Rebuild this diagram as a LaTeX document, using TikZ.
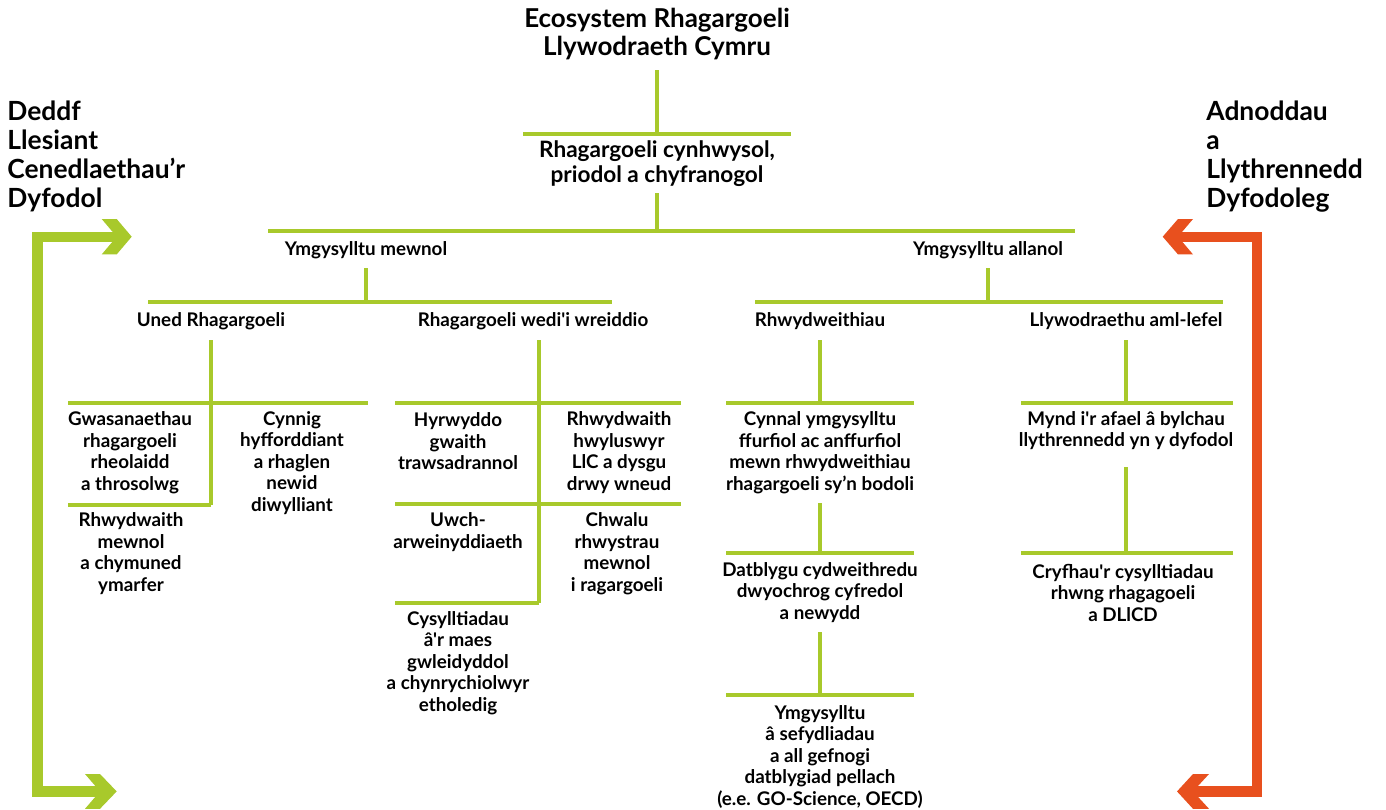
\documentclass[tikz,border=0pt]{standalone}
\usepackage{fontspec}
\setmainfont{Lato}[Ligatures=TeXOff]
\definecolor{lime}{HTML}{A8C92B}
\definecolor{orng}{HTML}{E8501E}
\tikzset{
  ln/.style={draw=lime, line width=1.6pt},
  sm/.style={font=\fontsize{9.4}{10.75}\selectfont\bfseries, align=center, inner sep=0pt},
  md/.style={font=\fontsize{11.3}{12.5}\selectfont\bfseries, align=center, inner sep=0pt},
  ttl/.style={font=\fontsize{13}{13.7}\selectfont\bfseries, align=center, inner sep=0pt},
  side/.style={font=\fontsize{13.2}{14.5}\selectfont\bfseries, align=left, inner sep=0pt, anchor=north west},
}
\begin{document}
\begin{tikzpicture}[x=0.5pt,y=-0.5pt]
\useasboundingbox (0,0) rectangle (1386,809);

% ---------- side brackets ----------
\fill[lime] (32.3,231.7) rectangle (42.7,796.7);
\fill[lime] (32.3,231.7) rectangle (120,241.7);
\fill[lime] (101.7,219)--(116.7,219)--(131.7,236.7)--(116.7,254.4)--(101.7,254.4)--(116.7,236.7)--cycle;
\fill[lime] (32.3,786) rectangle (104,796.7);
\fill[lime] (85,774)--(100,774)--(116.7,791.4)--(100,808.8)--(85,808.8)--(100,791.4)--cycle;

\fill[orng] (1251.7,231.7) rectangle (1262.3,796.7);
\fill[orng] (1175,231.7) rectangle (1262.3,241.7);
\fill[orng] (1193,219)--(1178,219)--(1162.7,236.7)--(1178,254.4)--(1193,254.4)--(1178,236.7)--cycle;
\fill[orng] (1190,786) rectangle (1262.3,796.7);
\fill[orng] (1209,774)--(1193,774)--(1177,791.4)--(1193,808.8)--(1209,808.8)--(1193,791.4)--cycle;

\node[side] (deddf) at (7,100) {Deddf\\Llesiant\\Cenedlaethau’r\\Dyfodol};
\node[side] (adnodd) at (1206,100) {Adnoddau\\a\\Llythrennedd\\Dyfodoleg};

% ---------- top ----------
\node[ttl] (eco) at (657,34) {Ecosystem Rhagargoeli\\Llywodraeth Cymru};
\coordinate (ecob) at (657,70);
\coordinate (j1) at (657,134);
\coordinate (j1l) at (523,134);
\coordinate (j1r) at (791,134);
\draw[ln] (ecob) -- (j1);
\draw[ln] (j1l) -- (j1r);

\node[md] (cyn) at (657,164) {Rhagargoeli cynhwysol,\\priodol a chyfranogol};
\coordinate (cynb) at (657,193);
\coordinate (j2) at (657,231);
\coordinate (j2l) at (268,231);
\coordinate (j2r) at (1075,231);
\draw[ln] (cynb) -- (j2);
\draw[ln] (j2l) -- (j2r);

% ---------- level 2 ----------
\node[sm] (mewnol) at (366,250) {Ymgysylltu mewnol};
\node[sm] (allanol) at (988,250) {Ymgysylltu allanol};
\coordinate (mwb) at (366,268);
\coordinate (mwj) at (366,302);
\coordinate (mwl) at (148,302);
\coordinate (mwr) at (612,302);
\coordinate (alb) at (988,268);
\coordinate (alj) at (988,302);
\coordinate (all) at (755,302);
\coordinate (alr) at (1223,302);
\draw[ln] (mwb) -- (mwj);
\draw[ln] (mwl) -- (mwr);
\draw[ln] (alb) -- (alj);
\draw[ln] (all) -- (alr);

% ---------- level 3 ----------
\node[sm] (uned) at (211,321) {Uned Rhagargoeli};
\node[sm] (wreid) at (533,321) {Rhagargoeli wedi'i wreiddio};
\node[sm] (rhwyd) at (820,321) {Rhwydweithiau};
\node[sm] (llyw) at (1126,321) {Llywodraethu aml-lefel};

% Uned subtree
\coordinate (unt) at (211,340);
\coordinate (unc) at (211,403);
\coordinate (unb) at (211,505);
\coordinate (unl) at (68,403);
\coordinate (unr) at (368,403);
\coordinate (unbl) at (68,505);
\draw[ln] (unt) -- (unb);
\draw[ln] (unl) -- (unr);
\draw[ln] (unbl) -- (unb);
\node[sm] (gwas) at (130,452.5) {Gwasanaethau\\rhagargoeli\\rheolaidd\\a throsolwg};
\node[sm] (cynnig) at (292,463) {Cynnig\\hyfforddiant\\a rhaglen\\newid\\diwylliant};
\node[sm] (rhwm) at (131,553.5) {Rhwydwaith\\mewnol\\a chymuned\\ymarfer};

% Wreiddio subtree
\coordinate (wrt) at (539,340);
\coordinate (wrm) at (539,504);
\coordinate (wrb) at (539,603);
\coordinate (wr1l) at (395,403);
\coordinate (wr1r) at (681,403);
\coordinate (wr2l) at (395,504);
\coordinate (wr2r) at (681,504);
\coordinate (wr3l) at (395,603);
\draw[ln] (wrt) -- (wrb);
\draw[ln] (wr1l) -- (wr1r);
\draw[ln] (wr2l) -- (wr2r);
\draw[ln] (wr3l) -- (wrb);
\node[sm] (hyr) at (458,441.5) {Hyrwyddo\\gwaith\\trawsadrannol};
\node[sm] (rhwh) at (619,452.5) {Rhwydwaith\\hwyluswyr\\LlC a dysgu\\drwy wneud};
\node[sm] (uwch) at (458,532) {Uwch-\\arweinyddiaeth};
\node[sm] (chwalu) at (617,553.5) {Chwalu\\rhwystrau\\mewnol\\i ragargoeli};
\node[sm] (cysyl) at (458,663) {Cysylltiadau\\â'r maes\\gwleidyddol\\a chynrychiolwyr\\etholedig};

% Rhwydweithiau subtree
\coordinate (rwt) at (820,340);
\coordinate (rwj) at (820,403);
\coordinate (rw1l) at (726,403);
\coordinate (rw1r) at (914,403);
\draw[ln] (rwt) -- (rwj);
\draw[ln] (rw1l) -- (rw1r);
\node[sm] (cynnal) at (820,452.5) {Cynnal ymgysylltu\\ffurfiol ac anffurfiol\\mewn rhwydweithiau\\rhagargoeli sy’n bodoli};
\coordinate (cnb) at (820,503);
\coordinate (rwj2) at (820,553);
\coordinate (rw2l) at (726,553);
\coordinate (rw2r) at (914,553);
\draw[ln] (cnb) -- (rwj2);
\draw[ln] (rw2l) -- (rw2r);
\node[sm] (datb) at (820,592.5) {Datblygu cydweithredu\\dwyochrog cyfredol\\a newydd};
\coordinate (dtb) at (820,632);
\coordinate (rwj3) at (820,695);
\coordinate (rw3l) at (726,695);
\coordinate (rw3r) at (914,695);
\draw[ln] (dtb) -- (rwj3);
\draw[ln] (rw3l) -- (rw3r);
\node[sm] (ymg) at (820,756.5) {Ymgysylltu\\â sefydliadau\\a all gefnogi\\datblygiad pellach\\(e.e. GO-Science, OECD)};

% Llywodraethu subtree
\coordinate (lwt) at (1126,340);
\coordinate (lwj) at (1126,403);
\coordinate (lw1l) at (1021,403);
\coordinate (lw1r) at (1233,403);
\draw[ln] (lwt) -- (lwj);
\draw[ln] (lw1l) -- (lw1r);
\node[sm] (mynd) at (1126,430.5) {Mynd i'r afael â bylchau\\llythrennedd yn y dyfodol};
\coordinate (mnb) at (1126,467);
\coordinate (lwj2) at (1126,553);
\coordinate (lw2l) at (1021,553);
\coordinate (lw2r) at (1233,553);
\draw[ln] (mnb) -- (lwj2);
\draw[ln] (lw2l) -- (lw2r);
\node[sm] (cryf) at (1123,592.5) {Cryfhau'r cysylltiadau\\rhwng rhagagoeli\\a DLlCD};

\end{tikzpicture}
\end{document}
